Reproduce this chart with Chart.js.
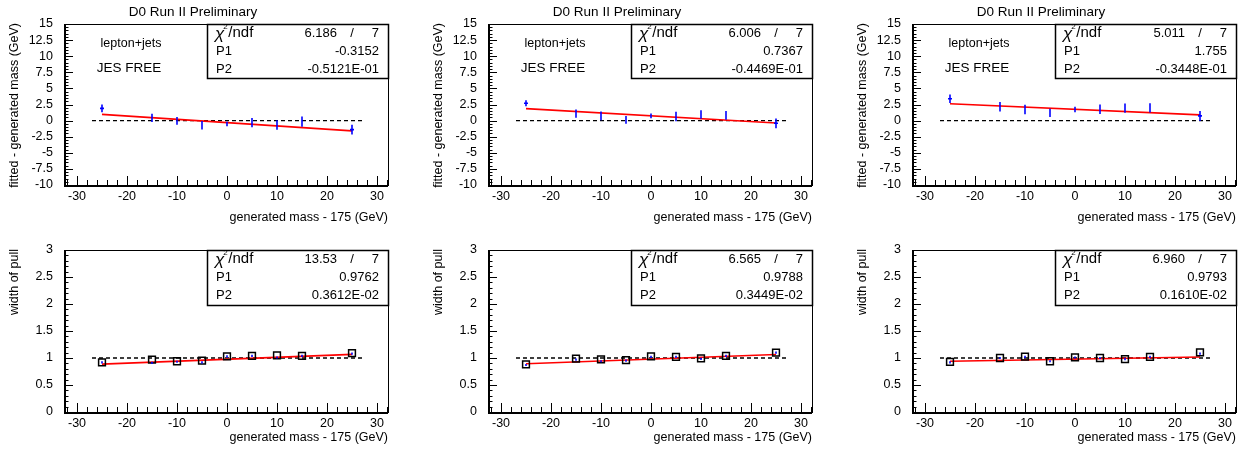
<!DOCTYPE html>
<html>
<head>
<meta charset="utf-8">
<script src="https://cdn.jsdelivr.net/npm/chart.js@4.4.1/dist/chart.umd.min.js"></script>
<style>
  body { margin: 0; background: #fff; }
  #wrap { position: relative; width: 1244px; height: 453px; }
  #wrap canvas { position: absolute; left: 0; top: 0; }
</style>
</head>
<body>
<div id="wrap"></div>
<script>
// generated top mass minus 175 GeV
const massPoints = [-25, -15, -10, -5, 0, 5, 10, 15, 25];
const massErr = [0.4, 0, 0, 0, 0, 0, 0, 0, 0.4];

// fitted - generated mass, three columns
const biasCol1 = [1.9, 0.42, -0.05, -0.73, -0.52, -0.31, -0.68, -0.16, -1.4];
const biasErrCol1 = [0.6, 0.65, 0.6, 0.65, 0.36, 0.73, 0.73, 0.8, 0.75];
const biasCol2 = [2.7, 1.09, 0.73, 0.1, 0.73, 0.63, 0.94, 0.83, -0.42];
const biasErrCol2 = [0.47, 0.65, 0.68, 0.6, 0.36, 0.75, 0.65, 0.68, 0.75];
const biasCol3 = [3.39, 2.14, 1.72, 1.2, 1.72, 1.77, 1.93, 1.98, 0.73];
const biasErrCol3 = [0.65, 0.73, 0.75, 0.65, 0.42, 0.73, 0.73, 0.73, 0.78];

// width of pull (open squares) and the small blue points under them
const pullCol1 = [0.92, 0.97, 0.94, 0.95, 1.03, 1.04, 1.05, 1.04, 1.09];
const pullCol2 = [0.88, 0.99, 0.975, 0.96, 1.03, 1.02, 0.995, 1.04, 1.1];
const pullCol3 = [0.93, 1.0, 1.025, 0.94, 1.01, 1.0, 0.98, 1.02, 1.105];
const pullBlueCol1 = [0.92, 0.91, 0.93, 0.92, 1.03, 1.04, 1.01, 1.04, 1.08];
const pullBlueCol2 = [0.87, 0.97, 0.94, 0.95, 1.02, 1.02, 0.985, 1.04, 1.1];
const pullBlueCol3 = [0.92, 1.0, 1.02, 0.94, 1.01, 1.0, 0.98, 1.02, 1.08];

// fit results (stat boxes)
const biasP1 = [-0.3152, 0.7367, 1.755];
const biasP2 = [-0.05121, -0.04469, -0.03448];
const biasChi2 = [6.186, 6.006, 5.011];
const pullP1 = [0.9762, 0.9788, 0.9793];
const pullP2 = [0.003612, 0.003449, 0.001610];
const pullChi2 = [13.53, 6.565, 6.960];
const ndf = 7;

// tick labels
const xTickLabels = [-30, -20, -10, 0, 10, 20, 30];
const biasTickLabels = [-10, -7.5, -5, -2.5, 0, 2.5, 5, 7.5, 10, 12.5, 15];
const pullTickLabels = [0, 0.5, 1, 1.5, 2, 2.5, 3];

const FONT = '"Liberation Sans", Arial, Helvetica, sans-serif';

// ROOT style number "-0.5121E-01"
function rootE(v) {
  const e = Math.floor(Math.log10(Math.abs(v))) + 1;
  const m = v / Math.pow(10, e);
  const es = (e < 0 ? '-' : '+') + String(Math.abs(e)).padStart(2, '0');
  return m.toFixed(4) + 'E' + es;
}

const rootPanel = {
  id: 'rootPanel',
  afterDatasetsDraw(chart, args, opts) {
    const { ctx, chartArea: area, scales: { x, y } } = chart;
    ctx.save();
    ctx.beginPath();
    ctx.rect(area.left, area.top, area.width, area.height);
    ctx.clip();
    ctx.strokeStyle = '#0000ff';
    ctx.lineWidth = 1.6;
    if (opts.bias) {
      massPoints.forEach((m, i) => {
        const px = x.getPixelForValue(m);
        const py = y.getPixelForValue(opts.vals[i]);
        ctx.beginPath();
        ctx.moveTo(px, y.getPixelForValue(opts.vals[i] - opts.errs[i]));
        ctx.lineTo(px, y.getPixelForValue(opts.vals[i] + opts.errs[i]));
        if (massErr[i] > 0) {
          ctx.moveTo(x.getPixelForValue(m - massErr[i]), py);
          ctx.lineTo(x.getPixelForValue(m + massErr[i]), py);
        }
        ctx.stroke();
      });
    } else {
      massPoints.forEach((m, i) => {
        const px = x.getPixelForValue(m);
        ctx.beginPath();
        ctx.moveTo(px, y.getPixelForValue(opts.blue[i] - 0.02));
        ctx.lineTo(px, y.getPixelForValue(opts.blue[i] + 0.02));
        ctx.stroke();
      });
    }
    ctx.restore();
  },
  afterDraw(chart, args, opts) {
    const { ctx, chartArea: area, scales: { x, y } } = chart;
    const L = area.left, R = area.right, T = area.top, B = area.bottom;
    ctx.save();
    ctx.strokeStyle = '#000';
    ctx.fillStyle = '#000';

    // frame
    ctx.lineWidth = 1;
    ctx.strokeRect(Math.round(L) + 0.5, Math.round(T) + 0.5, Math.round(R - L), Math.round(B - T));
    ctx.lineWidth = 2;
    ctx.beginPath();
    ctx.moveTo(Math.round(L) + 1, T);
    ctx.lineTo(Math.round(L) + 1, Math.round(B) + 1);
    ctx.lineTo(R, Math.round(B) + 1);
    ctx.stroke();

    // x ticks (inside, from bottom)
    ctx.lineWidth = 1;
    ctx.beginPath();
    for (let v = -32; v <= 32; v += 2) {
      const px = Math.round(x.getPixelForValue(v)) + 0.5;
      const len = v % 10 === 0 ? 9 : 5;
      ctx.moveTo(px, B);
      ctx.lineTo(px, B - len);
    }
    // y ticks (inside, from left)
    const yMin = y.min, yMax = y.max;
    const minor = opts.bias ? 0.5 : 0.1;
    const n = Math.round((yMax - yMin) / minor);
    for (let i = 0; i <= n; i++) {
      const v = yMin + i * minor;
      const py = Math.round(y.getPixelForValue(v)) + 0.5;
      const len = i % 5 === 0 ? 9 : 4.5;
      ctx.moveTo(L, py);
      ctx.lineTo(L + len, py);
    }
    ctx.stroke();

    // tick labels
    ctx.font = '12.5px ' + FONT;
    ctx.textAlign = 'center';
    ctx.textBaseline = 'middle';
    xTickLabels.forEach(v => ctx.fillText(String(v), x.getPixelForValue(v), B + 12));
    ctx.textAlign = 'right';
    opts.yLabels.forEach(v => ctx.fillText(String(v), L - 11, y.getPixelForValue(v)));

    // axis titles
    ctx.font = '12.5px ' + FONT;
    ctx.textAlign = 'right';
    ctx.fillText('generated mass - 175 (GeV)', R, B + opts.xTitleGap);
    ctx.save();
    ctx.translate(L - 49, T - 1);
    ctx.rotate(-Math.PI / 2);
    ctx.textAlign = 'right';
    ctx.fillText(opts.yTitle, 0, 0);
    ctx.restore();

    if (opts.bias) {
      ctx.textAlign = 'center';
      ctx.font = '13.5px ' + FONT;
      ctx.fillText('D0 Run II Preliminary', L + 129, 12);
      ctx.font = '12.5px ' + FONT;
      ctx.fillText('lepton+jets', L + 67, T + 20);
      ctx.font = '13.5px ' + FONT;
      ctx.fillText('JES FREE', L + 65, T + 44);
    }

    // stat box
    const bl = L + 143, br = R, bt = T, bh = opts.boxH;
    ctx.fillStyle = '#fff';
    ctx.fillRect(bl, bt, br - bl, bh);
    ctx.fillStyle = '#000';
    ctx.lineWidth = 1.5;
    ctx.strokeRect(Math.round(bl) + 0.5, Math.round(bt) + 0.5, Math.round(br - bl), bh);
    const r1 = bt + bh / 6, r2 = bt + bh / 2, r3 = bt + bh * 5 / 6;
    ctx.textAlign = 'left';
    ctx.font = 'italic 17px ' + FONT;
    ctx.fillText('\u03c7', bl + 8, r1 + 1);
    const cw = ctx.measureText('\u03c7').width;
    ctx.font = '8px ' + FONT;
    ctx.fillText('2', bl + 8 + cw - 1, r1 - 6);
    ctx.font = '15px ' + FONT;
    ctx.fillText('/ndf', bl + 8 + cw + 4, r1);
    ctx.font = '13px ' + FONT;
    ctx.fillText('P1', bl + 9, r2);
    ctx.fillText('P2', bl + 9, r3);
    ctx.textAlign = 'right';
    ctx.fillText(opts.chi2.toPrecision(4), br - 51, r1);
    ctx.fillText(String(ndf), br - 9, r1);
    ctx.textAlign = 'center';
    ctx.fillText('/', br - 36, r1);
    ctx.textAlign = 'right';
    ctx.fillText(opts.p1.toPrecision(4), br - 9, r2);
    ctx.fillText(rootE(opts.p2), br - 9, r3);
    ctx.restore();
  }
};

const colLeft = [64, 488, 912];
const biasSets = [biasCol1, biasCol2, biasCol3];
const biasErrSets = [biasErrCol1, biasErrCol2, biasErrCol3];
const pullSets = [pullCol1, pullCol2, pullCol3];
const pullBlueSets = [pullBlueCol1, pullBlueCol2, pullBlueCol3];

function makePanel(col, row) {
  const canvas = document.createElement('canvas');
  canvas.width = 1244;
  canvas.height = 453;
  document.getElementById('wrap').appendChild(canvas);

  const bias = row === 0;
  const left = colLeft[col], right = left + 324;
  const top = bias ? 24 : 250, bottom = bias ? 185 : 412;
  const vals = bias ? biasSets[col] : pullSets[col];
  const p1 = bias ? biasP1[col] : pullP1[col];
  const p2 = bias ? biasP2[col] : pullP2[col];
  const refY = bias ? 0 : 1;

  new Chart(canvas, {
    type: 'scatter',
    data: {
      datasets: [
        {
          label: 'reference',
          data: [{ x: -27, y: refY }, { x: 27, y: refY }],
          showLine: true, borderColor: '#000', borderWidth: 1.3, borderDash: [4, 3],
          pointRadius: 0, order: 3
        },
        {
          label: 'fit',
          data: [{ x: -25, y: p1 + p2 * -25 }, { x: 25, y: p1 + p2 * 25 }],
          showLine: true, borderColor: '#ff0000', borderWidth: 1.6,
          pointRadius: 0, order: 2
        },
        {
          label: 'points',
          data: massPoints.map((m, i) => ({ x: m, y: vals[i] })),
          showLine: false, pointStyle: 'rect', pointRadius: bias ? 0 : 4.8,
          borderColor: '#000', borderWidth: 1.5, backgroundColor: 'rgba(0,0,0,0)',
          order: 1
        }
      ]
    },
    options: {
      responsive: false,
      animation: false,
      events: [],
      layout: { padding: { left: left, top: top, right: 1244 - right, bottom: 453 - bottom } },
      scales: {
        x: { type: 'linear', min: -32.6, max: 32.2, display: false },
        y: { type: 'linear', min: bias ? -10 : 0, max: bias ? 15 : 3, display: false }
      },
      plugins: {
        legend: { display: false },
        tooltip: { enabled: false },
        rootPanel: {
          bias: bias,
          vals: vals,
          errs: bias ? biasErrSets[col] : null,
          blue: bias ? null : pullBlueSets[col],
          yLabels: bias ? biasTickLabels : pullTickLabels,
          yTitle: bias ? 'fitted - generated mass (GeV)' : 'width of pull',
          xTitleGap: bias ? 33 : 26,
          boxH: bias ? 54 : 55,
          chi2: bias ? biasChi2[col] : pullChi2[col],
          p1: p1,
          p2: p2
        }
      }
    },
    plugins: [rootPanel]
  });
}

for (let row = 0; row < 2; row++) {
  for (let col = 0; col < 3; col++) makePanel(col, row);
}
</script>
</body>
</html>
